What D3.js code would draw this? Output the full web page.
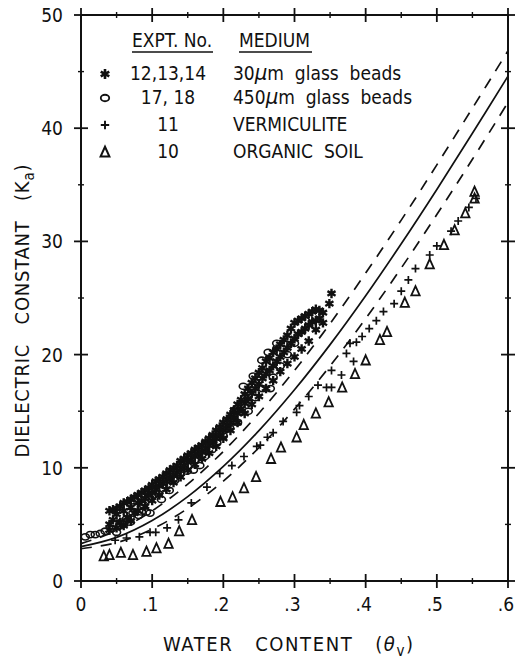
<!DOCTYPE html>
<html>
<head>
<meta charset="utf-8">
<script src="https://cdnjs.cloudflare.com/ajax/libs/d3/7.8.5/d3.min.js"></script>
<style>
body { margin: 0; background: #fff; }
text { font-family: "DejaVu Sans Condensed", "DejaVu Sans", sans-serif; fill: #111; }
</style>
</head>
<body>
<div id="chart"></div>
<script>
// 30 um glass beads (expt 12,13,14) - theta, Ka
var glass30 = [
  [0.040,6.2],[0.040,5.0],[0.040,4.5],[0.045,6.3],[0.045,5.4],[0.050,6.4],[0.050,5.9],[0.050,4.7],
  [0.055,6.6],[0.055,5.2],[0.060,6.9],[0.060,6.2],[0.060,4.9],[0.065,7.0],[0.065,5.6],[0.070,7.2],
  [0.070,6.5],[0.070,5.3],[0.075,7.4],[0.075,6.0],[0.080,7.6],[0.080,6.9],[0.080,6.2],[0.085,7.8],
  [0.085,7.1],[0.090,8.0],[0.090,7.3],[0.090,6.6],[0.095,8.2],[0.095,7.6],[0.100,8.5],[0.100,7.8],
  [0.100,7.1],[0.105,8.8],[0.105,8.1],[0.110,9.0],[0.110,8.4],[0.110,7.6],[0.115,9.2],[0.115,8.6],
  [0.120,9.5],[0.120,8.8],[0.120,8.1],[0.125,9.8],[0.125,9.1],[0.130,10.0],[0.130,9.4],[0.130,8.7],
  [0.135,10.2],[0.135,9.6],[0.140,10.6],[0.140,9.9],[0.140,9.2],[0.145,10.8],[0.145,10.2],[0.150,11.1],
  [0.150,10.5],[0.150,9.8],[0.155,11.3],[0.155,10.7],[0.160,11.6],[0.160,11.0],[0.160,10.3],[0.165,11.8],
  [0.165,11.2],[0.170,12.0],[0.170,11.4],[0.170,10.8],[0.175,12.3],[0.175,11.7],[0.180,12.6],[0.180,12.0],
  [0.180,11.3],[0.185,12.9],[0.185,12.3],[0.190,13.3],[0.190,12.6],[0.190,11.9],[0.195,13.6],[0.195,12.9],
  [0.200,14.0],[0.200,13.3],[0.200,12.6],[0.205,14.3],[0.205,13.7],[0.210,14.7],[0.210,14.0],[0.210,13.3],
  [0.215,15.1],[0.215,14.4],[0.220,15.6],[0.220,14.8],[0.220,14.0],[0.225,16.0],[0.225,15.2],[0.230,16.5],
  [0.230,15.7],[0.230,14.8],[0.235,17.0],[0.235,16.1],[0.240,17.5],[0.240,16.6],[0.240,15.6],[0.245,17.9],
  [0.245,17.0],[0.250,18.4],[0.250,17.4],[0.250,16.3],[0.255,18.8],[0.255,17.9],[0.260,19.4],[0.260,18.3],
  [0.260,17.0],[0.265,19.7],[0.265,18.6],[0.270,20.2],[0.270,19.0],[0.270,17.7],[0.275,20.5],[0.275,19.4],
  [0.280,20.9],[0.280,19.8],[0.280,18.5],[0.285,21.3],[0.285,20.2],[0.290,21.7],[0.290,20.6],[0.290,19.2],
  [0.295,22.3],[0.295,21.0],[0.300,22.8],[0.300,21.4],[0.300,19.8],[0.305,23.0],[0.305,21.8],[0.310,23.2],
  [0.310,22.0],[0.310,20.5],[0.315,23.4],[0.315,22.3],[0.320,23.6],[0.320,22.6],[0.320,21.2],[0.325,23.8],
  [0.325,22.9],[0.330,24.0],[0.330,23.0],[0.330,22.2],[0.335,23.9],[0.335,23.2],[0.340,23.7],[0.340,22.8],
  [0.349,24.5],[0.352,25.4]
];

// 450 um glass beads (expt 17,18)
var glass450 = [
  [0.006,3.9],[0.013,4.1],[0.020,4.1],[0.027,4.2],[0.034,4.4],[0.043,4.6],[0.050,4.3],[0.054,4.9],
  [0.057,5.2],[0.064,5.5],[0.069,5.2],[0.073,6.0],[0.076,6.6],[0.081,5.8],[0.085,6.1],[0.088,6.7],
  [0.092,6.1],[0.097,6.0],[0.097,7.3],[0.102,7.6],[0.109,7.7],[0.113,7.2],[0.116,8.5],[0.124,8.0],
  [0.132,8.9],[0.139,9.4],[0.149,9.7],[0.158,9.8],[0.160,10.7],[0.167,10.2],[0.174,11.0],[0.184,11.6],
  [0.191,12.2],[0.200,12.8],[0.209,13.5],[0.216,15.1],[0.220,14.0],[0.228,17.2],[0.235,15.0],[0.242,18.1],
  [0.245,16.2],[0.254,19.5],[0.255,17.0],[0.263,20.2],[0.266,17.0],[0.270,18.0],[0.275,21.0],[0.280,19.0],
  [0.290,20.0],[0.300,21.0]
];

// vermiculite (expt 11)
var vermiculite = [
  [0.048,3.6],[0.064,3.8],[0.082,3.9],[0.097,4.3],[0.105,4.3],[0.121,4.7],[0.137,5.4],[0.155,6.9],
  [0.177,8.3],[0.195,9.5],[0.212,10.2],[0.229,11.0],[0.247,11.9],[0.252,12.0],[0.262,12.7],[0.270,13.1],
  [0.284,14.1],[0.303,14.9],[0.307,15.5],[0.320,16.3],[0.333,17.3],[0.345,17.1],[0.352,17.1],[0.352,18.6],
  [0.366,18.2],[0.373,20.1],[0.383,19.4],[0.378,21.0],[0.387,21.1],[0.395,21.6],[0.405,22.3],[0.415,23.0],
  [0.425,23.8],[0.440,24.5],[0.450,25.6],[0.460,26.6],[0.470,27.6],[0.490,28.8],[0.500,29.6],[0.520,30.9],
  [0.530,31.8],[0.545,33.0],[0.555,33.8]
];

// organic soil (expt 10)
var organicSoil = [
  [0.032,2.2],[0.040,2.3],[0.056,2.5],[0.073,2.3],[0.092,2.6],[0.106,2.9],[0.123,3.3],[0.138,4.4],
  [0.156,5.4],[0.196,7.0],[0.213,7.4],[0.229,8.2],[0.246,9.2],[0.267,10.8],[0.281,11.8],[0.303,12.7],
  [0.313,13.8],[0.330,14.8],[0.348,15.8],[0.367,17.1],[0.385,18.3],[0.400,19.5],[0.420,21.3],[0.430,22.0],
  [0.455,24.6],[0.470,25.6],[0.490,28.0],[0.510,29.7],[0.525,31.0],[0.540,32.5],[0.553,33.8],[0.553,34.4]
];

// curves
var curveTheta = [0, 0.05, 0.1, 0.15, 0.2, 0.25, 0.3, 0.35, 0.4, 0.45, 0.5, 0.55, 0.6];
var curveMid   = [3.03, 3.85, 5.34, 7.45, 10.12, 13.28, 16.89, 20.88, 25.20, 29.79, 34.59, 39.55, 44.6];
var curveUpper = [3.30, 4.43, 6.20, 8.56, 11.45, 14.82, 18.60, 22.74, 27.20, 31.88, 36.76, 41.77, 46.84];
var curveLower = [2.85, 3.39, 4.58, 6.41, 8.83, 11.77, 15.18, 19.00, 23.18, 27.65, 32.37, 37.25, 42.28];

var xTickLabels = ["0", ".1", ".2", ".3", ".4", ".5", ".6"];
var yTickLabels = ["0", "10", "20", "30", "40", "50"];

var legendSymbols = ["star", "circle", "plus", "triangle"];
var legendExpt = ["12,13,14", "17, 18", "11", "10"];
var legendMedium = [["30", "μ", "m  glass  beads"], ["450", "μ", "m  glass  beads"], ["VERMICULITE"], ["ORGANIC  SOIL"]];

var width = 517, height = 664;
var margin = {top: 15, left: 81, right: 9, bottom: 83};

var x = d3.scaleLinear().domain([0, 0.6]).range([margin.left, width - margin.right]);
var y = d3.scaleLinear().domain([0, 50]).range([height - margin.bottom, margin.top]);

var svg = d3.select("#chart").append("svg")
  .attr("width", width)
  .attr("height", height);

// symbol paths
function symbolPath(type, s) {
  if (type == "star") {
    var r = 4.7 * s, u = r * Math.sqrt(3) / 2, t = r / 2;
    return "M0," + (-r) + "V" + r + "M" + (-u) + "," + (-t) + "L" + u + "," + t + "M" + (-u) + "," + t + "L" + u + "," + (-t);
  }
  if (type == "plus") {
    var p = 4 * s;
    return "M" + (-p) + ",0H" + p + "M0," + (-p) + "V" + p;
  }
  if (type == "triangle") {
    var h = 5 * s, w = 4.2 * s;
    return "M0," + (-h) + "L" + w + "," + (h * 0.85) + "L" + (-w) + "," + (h * 0.85) + "Z";
  }
  var rx = 4.0 * s, ry = 3.1 * s;
  return "M" + (-rx) + ",0A" + rx + "," + ry + " 0 1,0 " + rx + ",0A" + rx + "," + ry + " 0 1,0 " + (-rx) + ",0Z";
}

function symbolStroke(type) {
  return {star: 2.4, plus: 1.7, triangle: 1.8, circle: 1.6}[type];
}

// curves
function curvePoints(vals) {
  return curveTheta.map(function(t, i) { return [t, vals[i]]; });
}
var line = d3.line()
  .x(function(d) { return x(d[0]); })
  .y(function(d) { return y(d[1]); })
  .curve(d3.curveCatmullRom);

svg.append("path").datum(curvePoints(curveMid))
  .attr("d", line).attr("fill", "none").attr("stroke", "#111").attr("stroke-width", 1.7);
[curveUpper, curveLower].forEach(function(c) {
  svg.append("path").datum(curvePoints(c))
    .attr("d", line).attr("fill", "none").attr("stroke", "#111").attr("stroke-width", 1.7)
    .attr("stroke-dasharray", "11,9");
});

// data points
function drawPoints(data, type) {
  svg.append("g").selectAll("path")
    .data(data).enter()
    .append("path")
    .attr("transform", function(d) { return "translate(" + x(d[0]) + "," + y(d[1]) + ")"; })
    .attr("d", symbolPath(type, 1))
    .attr("fill", "none")
    .attr("stroke", "#111")
    .attr("stroke-width", symbolStroke(type));
}
drawPoints(organicSoil, "triangle");
drawPoints(vermiculite, "plus");
drawPoints(glass30, "star");
drawPoints(glass450, "circle");

// frame with crossing ticks
var x0 = x.range()[0], x1 = x.range()[1], y0 = y.range()[0], y1 = y.range()[1];
var frame = svg.append("g").attr("stroke", "#111");
frame.append("rect")
  .attr("x", x0).attr("y", y1).attr("width", x1 - x0).attr("height", y0 - y1)
  .attr("fill", "none").attr("stroke-width", 2);

var xTicks = x.ticks(12), yTicks = y.ticks(10);
xTicks.forEach(function(t, i) {
  var len = i % 2 == 0 ? 7 : 3;
  [y0, y1].forEach(function(yy) {
    frame.append("line").attr("x1", x(t)).attr("x2", x(t))
      .attr("y1", yy - len).attr("y2", yy + len).attr("stroke-width", i % 2 == 0 ? 1.8 : 1.4);
  });
});
yTicks.forEach(function(t, i) {
  var len = i % 2 == 0 ? 7 : 3;
  [x0, x1].forEach(function(xx) {
    frame.append("line").attr("y1", y(t)).attr("y2", y(t))
      .attr("x1", xx - len).attr("x2", xx + len).attr("stroke-width", i % 2 == 0 ? 1.8 : 1.4);
  });
});

// tick labels
svg.append("g").selectAll("text")
  .data(xTickLabels).enter()
  .append("text")
  .attr("x", function(d, i) { return x(i / 10) - (i == 0 ? 0 : 2); })
  .attr("y", y0 + 30)
  .attr("text-anchor", "middle")
  .style("font-size", "19px")
  .text(function(d) { return d; });

svg.append("g").selectAll("text")
  .data(yTickLabels).enter()
  .append("text")
  .attr("x", x0 - 18)
  .attr("y", function(d, i) { return y(i * 10) + 7; })
  .attr("text-anchor", "end")
  .style("font-size", "19px")
  .text(function(d) { return d; });

// axis titles
var xt = svg.append("text")
  .attr("x", 288).attr("y", 651)
  .attr("text-anchor", "middle")
  .attr("textLength", 250).attr("lengthAdjust", "spacing")
  .style("font-size", "20px")
  .style("white-space", "pre");
xt.append("tspan").text("WATER   CONTENT   (");
xt.append("tspan").text("θ").style("font-style", "italic");
xt.append("tspan").text("v").attr("dy", 5).style("font-size", "15px");
xt.append("tspan").text(")").attr("dy", -5);

var yt = svg.append("text")
  .attr("transform", "translate(29,311) rotate(-90)")
  .attr("text-anchor", "middle")
  .attr("textLength", 293).attr("lengthAdjust", "spacing")
  .style("font-size", "20px")
  .style("white-space", "pre");
yt.append("tspan").text("DIELECTRIC   CONSTANT   (K");
yt.append("tspan").text("a").attr("dy", 5).style("font-size", "15px");
yt.append("tspan").text(")").attr("dy", -5);

// legend
var legend = svg.append("g");
legend.append("text").attr("x", 172).attr("y", 47).attr("text-anchor", "middle")
  .style("font-size", "19px").text("EXPT. No.");
legend.append("text").attr("x", 239).attr("y", 47)
  .style("font-size", "19px").text("MEDIUM");
legend.append("line").attr("x1", 132).attr("x2", 213).attr("y1", 52).attr("y2", 52)
  .attr("stroke", "#111").attr("stroke-width", 1.5);
legend.append("line").attr("x1", 239).attr("x2", 312).attr("y1", 52).attr("y2", 52)
  .attr("stroke", "#111").attr("stroke-width", 1.5);

var rowBase = [80, 104, 131, 158];
legendSymbols.forEach(function(s, i) {
  legend.append("path")
    .attr("transform", "translate(105," + (rowBase[i] - 6) + ")")
    .attr("d", symbolPath(s, 1.05))
    .attr("fill", "none").attr("stroke", "#111")
    .attr("stroke-width", symbolStroke(s) + 0.2);
  legend.append("text").attr("x", 168).attr("y", rowBase[i]).attr("text-anchor", "middle")
    .style("font-size", "19px").text(legendExpt[i]);
  var med = legend.append("text").attr("x", 233).attr("y", rowBase[i])
    .style("font-size", "19px").style("white-space", "pre");
  legendMedium[i].forEach(function(part, j) {
    var ts = med.append("tspan").text(part);
    if (part == "μ") ts.style("font-style", "italic").style("font-size", "22px");
  });
});
</script>
</body>
</html>
